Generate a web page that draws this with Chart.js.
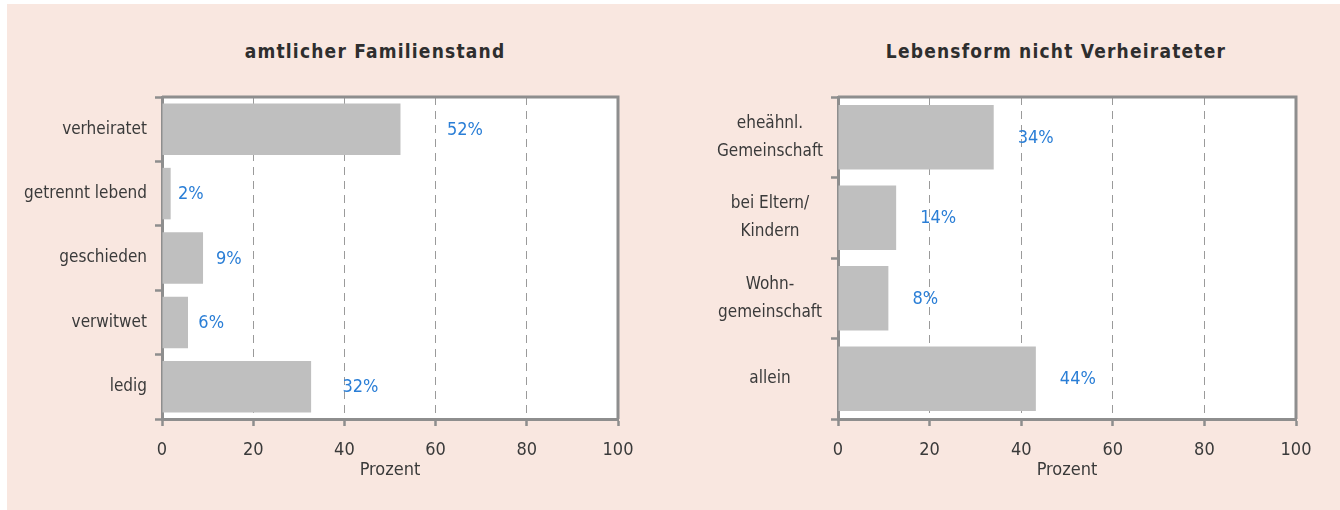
<!DOCTYPE html>
<html lang="de">
<head>
<meta charset="utf-8">
<title>Familienstand und Lebensform</title>
<script src="https://cdn.jsdelivr.net/npm/chart.js@4.4.1/dist/chart.umd.min.js"></script>
<style>
  html, body { margin: 0; padding: 0; background: #ffffff; }
  body { width: 1340px; height: 510px; position: relative; overflow: hidden; }
  .panel { position: absolute; left: 7px; top: 4px; width: 1333px; height: 506px; background: #f9e7e0; }
  .title {
    position: absolute; top: 40px; transform: translateX(-50%); white-space: nowrap;
    font-family: "DejaVu Sans Condensed", "Liberation Sans Narrow", "Roboto", sans-serif;
    font-size: 19px; font-weight: bold; letter-spacing: 1.2px; color: #2e2e2e;
  }
  .box { position: absolute; top: 80px; height: 420px; }
</style>
</head>
<body>
<div class="panel"></div>
<div class="title" style="left:375px">amtlicher Familienstand</div>
<div class="title" style="left:1056px">Lebensform nicht Verheirateter</div>
<div class="box" style="left:7px;width:643px"><canvas id="leftChart"></canvas></div>
<div class="box" style="left:670px;width:660px"><canvas id="rightChart"></canvas></div>
<script>
// --- data ---
const statusLabels = ["verheiratet", "getrennt lebend", "geschieden", "verwitwet", "ledig"];
const statusValues = [52.3, 1.9, 9.0, 5.7, 32.7];
const statusTexts = ["52%", "2%", "9%", "6%", "32%"];

const formLabels = [["eheähnl.", "Gemeinschaft"], ["bei Eltern/", "Kindern"], ["Wohn-", "gemeinschaft"], "allein"];
const formValues = [34.0, 12.7, 11.0, 43.2];
const formTexts = ["34%", "14%", "8%", "44%"];

const xTicks = [0, 20, 40, 60, 80, 100];
const axisTitle = "Prozent";

const FONT = '"DejaVu Sans Condensed", "Liberation Sans Narrow", "Roboto", sans-serif';
const AXIS = "#8e8e8e";
const TEXT = "#3a3a3a";
const BAR = "#bfbfbf";
const LABEL_BLUE = "#2a7ed6";

// white plot area + top/right frame
const plotFrame = {
  id: "plotFrame",
  beforeDraw(chart) {
    const { ctx, chartArea: a } = chart;
    ctx.save();
    ctx.fillStyle = "#ffffff";
    ctx.fillRect(a.left, a.top, a.width, a.height);
    ctx.restore();
  },
  afterDraw(chart) {
    const { ctx, chartArea: a } = chart;
    ctx.save();
    ctx.strokeStyle = AXIS;
    ctx.lineWidth = 3;
    ctx.beginPath();
    ctx.moveTo(a.left, a.top);
    ctx.lineTo(a.right, a.top);
    ctx.lineTo(a.right, a.bottom);
    ctx.stroke();
    ctx.restore();
  },
};

// percentage text beside each bar
const barLabels = {
  id: "barLabels",
  afterDatasetsDraw(chart, args, opts) {
    const { ctx } = chart;
    const meta = chart.getDatasetMeta(0);
    ctx.save();
    ctx.font = "18px " + FONT;
    ctx.fillStyle = LABEL_BLUE;
    ctx.textAlign = "left";
    ctx.textBaseline = "middle";
    meta.data.forEach((bar, i) => {
      const len = bar.x - bar.base;
      ctx.fillText(opts.texts[i], bar.x + opts.gap + opts.grow * len, bar.y + 1);
    });
    ctx.restore();
  },
};

function makeChart(id, labels, values, texts, yWidth, yAlign, pad, gap, grow) {
  return new Chart(document.getElementById(id), {
    type: "bar",
    data: {
      labels,
      datasets: [{
        data: values,
        backgroundColor: BAR,
        borderWidth: 0,
        categoryPercentage: 0.8,
        barPercentage: 1.0,
      }],
    },
    options: {
      indexAxis: "y",
      responsive: true,
      maintainAspectRatio: false,
      animation: false,
      layout: { padding: pad },
      scales: {
        x: {
          min: 0,
          max: 100,
          afterBuildTicks: (s) => { s.ticks = xTicks.map((v) => ({ value: v })); },
          afterFit: (s) => { s.height = 62; },
          ticks: { color: TEXT, padding: 14, font: { family: FONT, size: 18 } },
          grid: {
            color: (c) => (c.tick && (c.tick.value === 0 || c.tick.value === 100)) ? "rgba(0,0,0,0)" : "#9a9a9a",
            lineWidth: 1,
            drawTicks: true,
            tickLength: 7,
            tickColor: AXIS,
            tickWidth: 2.5,
            tickBorderDash: [],
          },
          border: { color: AXIS, width: 3, dash: [8, 6] },
          title: {
            display: true,
            text: axisTitle,
            color: TEXT,
            font: { family: FONT, size: 18, lineHeight: 1 },
            padding: { top: 0, bottom: 2 },
          },
        },
        y: {
          afterFit: (s) => { s.width = yWidth; s.paddingTop = 0; s.paddingBottom = 0; },
          ticks: {
            color: TEXT,
            padding: 8,
            crossAlign: yAlign,
            font: { family: FONT, size: 17, lineHeight: 1.65 },
          },
          grid: {
            offset: true,
            drawOnChartArea: false,
            drawTicks: true,
            tickLength: 7,
            tickColor: AXIS,
            tickWidth: 2.5,
          },
          border: { color: AXIS, width: 3 },
        },
      },
      plugins: {
        legend: { display: false },
        tooltip: { enabled: false },
        barLabels: { texts, gap, grow },
      },
    },
    plugins: [plotFrame, barLabels],
  });
}

makeChart("leftChart", statusLabels, statusValues, statusTexts, 150, "near",
  { top: 17, right: 32, bottom: 19, left: 5 }, 6, 0.17);
makeChart("rightChart", formLabels, formValues, formTexts, 168, "center",
  { top: 17, right: 34, bottom: 19, left: 0 }, 24, 0);
</script>
</body>
</html>
